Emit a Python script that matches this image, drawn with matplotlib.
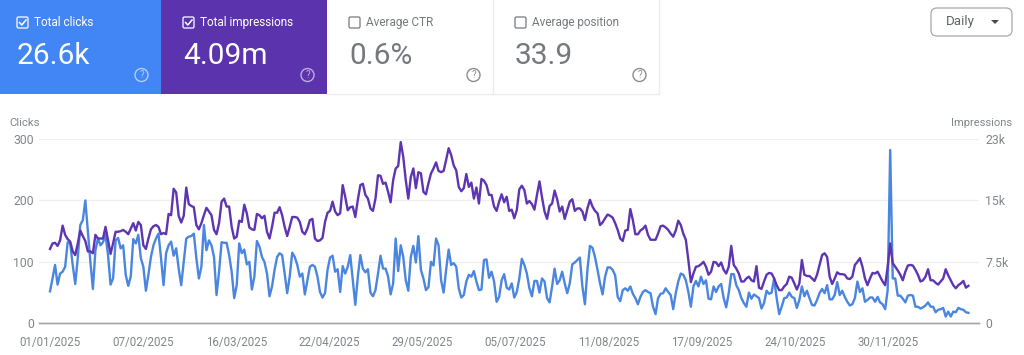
import matplotlib
matplotlib.use('Agg')
import matplotlib.pyplot as plt
from matplotlib.patches import Rectangle, FancyBboxPatch, Circle, Polygon
import pandas as pd

plt.rcParams['font.family'] = ['Roboto', 'DejaVu Sans']

clicks = [
    52, 73, 95, 63, 81, 84, 92, 132, 130, 95, 64, 106, 160, 168, 200, 149, 100, 56, 119, 138,
    127, 132, 144, 111, 63, 73, 135, 139, 122, 127, 79, 61, 76, 137, 130, 144, 106, 92, 53, 79,
    108, 127, 138, 146, 106, 62, 114, 127, 133, 110, 122, 89, 62, 100, 138, 141, 142, 146, 106, 73,
    92, 160, 119, 135, 127, 108, 46, 84, 132, 131, 131, 111, 84, 41, 62, 130, 114, 120, 96, 100,
    55, 76, 134, 125, 108, 100, 81, 44, 60, 87, 108, 114, 111, 81, 49, 76, 115, 108, 95, 76,
    81, 47, 70, 92, 95, 92, 76, 51, 42, 49, 87, 107, 110, 84, 88, 51,
    93, 81, 92, 111, 70, 30, 76, 111, 89, 83, 88, 50, 44, 54, 81, 110, 89, 89, 76, 47,
    65, 138, 85, 127, 108, 70, 53, 108, 126, 99, 142, 87, 73, 54, 59, 100, 94, 138, 127, 70,
    50, 87, 120, 95, 98, 92, 57, 42, 46, 68, 79, 76, 85, 68, 54, 55, 103, 104, 74, 84,
    68, 35, 43, 70, 80, 58, 55, 65, 42, 51, 73, 105, 95, 81, 57, 44, 69, 69, 50, 73,
    68, 41, 34, 60, 89, 64, 70, 84, 65, 49, 65, 96, 99, 103, 107, 60, 31, 87, 126, 123,
    108, 87, 65, 47, 76, 91, 91, 87, 78, 43, 36, 54, 57, 53, 60, 48, 41, 31, 43, 51,
    54, 51, 49, 27, 15, 41, 48, 49, 57, 51, 46, 23, 49, 68,
    81, 79, 70, 51, 27, 60, 69, 60, 76, 64, 70, 40, 39, 60, 51, 60, 64, 41, 26, 49,
    80, 80, 62, 54, 41, 33, 27, 50, 40, 47, 44, 41, 24, 33, 53, 48, 50, 73, 41, 15,
    27, 41, 42, 50, 43, 41, 25, 38, 60, 44, 53, 41, 30, 29, 38, 49, 56, 49, 62, 39,
    39, 46, 67, 46, 53, 43, 35, 29, 31, 41, 68, 51, 57, 35, 38, 42, 42, 35, 43, 34,
    31, 23, 54, 282, 73, 73, 45, 45, 40, 34, 45, 46, 45, 27, 27, 24, 26, 29, 34, 27,
    27, 18, 22, 23, 25, 11, 19, 11, 19, 18, 25, 23, 22, 18, 17,
]

# read against the left scale, multiplied up to impressions below
impressions_read = [
    121, 130, 131, 126, 135, 159, 144, 137, 133, 117, 111, 130, 151, 142, 134, 117, 117, 114, 144, 138,
    138, 138, 157, 135, 113, 130, 149, 149, 150, 152, 149, 145, 154, 163, 151, 165, 160, 127, 121, 138,
    153, 158, 160, 157, 145, 147, 145, 178, 176, 219, 213, 175, 164, 175, 221, 194, 191, 189, 160, 153,
    163, 176, 188, 182, 176, 152, 145, 163, 198, 203, 190, 190, 157, 138, 141, 167, 165, 193, 179, 156,
    153, 152, 178, 176, 171, 175, 149, 138, 157, 180, 180, 189, 176, 157, 142, 157, 173, 173, 172, 165,
    149, 145, 154, 168, 170, 138, 134, 135, 139, 165, 180, 183, 198, 182, 176, 179,
    225, 206, 184, 189, 190, 173, 201, 225, 227, 209, 203, 187, 183, 203, 241, 240, 227, 229, 214, 197,
    233, 252, 256, 295, 271, 233, 203, 238, 252, 220, 246, 244, 214, 210, 228, 244, 252, 262, 248, 246,
    248, 266, 285, 274, 257, 249, 222, 215, 220, 243, 222, 229, 203, 221, 195, 235, 232, 225, 209, 209,
    190, 183, 198, 210, 197, 206, 183, 185, 171, 184, 218, 224, 217, 195, 199, 194, 185, 209, 231, 205,
    182, 170, 191, 195, 216, 202, 182, 190, 170, 184, 198, 202, 183, 187, 187, 182, 168, 187, 201, 190,
    183, 179, 160, 164, 171, 177, 175, 172, 163, 152, 138, 134, 151, 152, 186, 168, 145, 145, 151, 154,
    159, 144, 136, 136, 136, 146, 158, 159, 156, 152, 146, 141, 151, 167,
    160, 146, 136, 103, 67, 81, 92, 93, 96, 100, 92, 79, 84, 100, 99, 93, 99, 87, 81, 92,
    126, 95, 89, 81, 68, 68, 73, 76, 70, 68, 93, 58, 56, 68, 79, 82, 81, 73, 62, 54,
    54, 60, 64, 76, 74, 65, 55, 65, 103, 79, 77, 77, 73, 69, 79, 95, 111, 114, 108, 76,
    64, 73, 83, 80, 80, 79, 73, 72, 76, 95, 100, 106, 92, 73, 62, 73, 82, 81, 84, 76,
    68, 62, 92, 130, 98, 92, 86, 79, 70, 84, 94, 95, 94, 87, 79, 68, 70, 76, 88, 70,
    70, 66, 63, 68, 73, 88, 78, 70, 62, 57, 62, 65, 69, 58, 61,
]
impressions = [v * 75 for v in impressions_read]

tick_dates = ['2025-01-01', '2025-02-07', '2025-03-16', '2025-04-22', '2025-05-29',
              '2025-07-05', '2025-08-11', '2025-09-17', '2025-10-24', '2025-11-30']
tick_labels = ['01/01/2025', '07/02/2025', '16/03/2025', '22/04/2025', '29/05/2025',
               '05/07/2025', '11/08/2025', '17/09/2025', '24/10/2025', '30/11/2025']
left_ticks = [0, 100, 200, 300]
left_labels = ['0', '100', '200', '300']
right_ticks = [0, 7500, 15000, 22500]
right_labels = ['0', '7.5k', '15k', '23k']

card_titles = ['Total clicks', 'Total impressions', 'Average CTR', 'Average position']
card_values = ['26.6k', '4.09m', '0.6%', '33.9']

BLUE = '#4285f4'
LINE_BLUE = '#4a86e0'
PURPLE = '#5e35b1'
GREY = '#80868b'
W, H = 1024, 355

fig = plt.figure(figsize=(W / 100, H / 100), dpi=100, facecolor='white')

# overlay in pixel coordinates for the cards
ui = fig.add_axes([0, 0, 1, 1])
ui.set_xlim(0, W)
ui.set_ylim(H, 0)
ui.axis('off')

cards = [(0, 161, BLUE), (161, 327, '#5b33ad'), (327, 493, 'white'), (493, 659, 'white')]
for (x0, x1, col), title, val in zip(cards, card_titles, card_values):
    filled = col != 'white'
    fg = 'white' if filled else '#75797d'
    ui.add_patch(Rectangle((x0, 0), x1 - x0, 94, fc=col, ec='none'))
    if not filled:
        ui.plot([x1, x1], [0, 94], color='#ececec', lw=1)
        ui.plot([x0, x1], [94, 94], color='#ececec', lw=1)
    bx = x0 + 22 if x0 else 17
    ui.add_patch(FancyBboxPatch((bx, 17), 11, 11, boxstyle='round,pad=0,rounding_size=1.5',
                                fc='none', ec=fg, lw=0.9))
    if filled:
        ui.plot([bx + 2.5, bx + 4.8, bx + 9], [22.5, 25, 20], color='white', lw=1.1)
    ui.text(bx + 17, 22.5, title, color=fg, fontsize=8.5, va='center', ha='left')
    ui.text(bx, 56, val, color=fg, fontsize=21.5, va='center', ha='left')
    cx = x1 - 19.5
    ui.add_patch(Circle((cx, 75), 6.5, fc='none', ec=('#ffffff99' if filled else '#8a8d90'), lw=1))
    ui.text(cx, 75, '?', color=('#ffffff99' if filled else '#8a8d90'), fontsize=7, ha='center', va='center')

ui.add_patch(FancyBboxPatch((931, 8), 81, 28, boxstyle='round,pad=0,rounding_size=6',
                            fc='white', ec='#a8a8a8', lw=0.9))
ui.text(946, 22, 'Daily', color='#5f6368', fontsize=9.6, va='center', ha='left')
ui.add_patch(Polygon([[991, 20], [999, 20], [995, 24]], fc='#4a4a4a', ec='none'))

ui.text(9, 123, 'Clicks', color=GREY, fontsize=8.2, va='center', ha='left')
ui.text(1012, 123, 'Impressions', color=GREY, fontsize=8, va='center', ha='right')

# chart area, 39..979 px across, 139..323 px down
ax = fig.add_axes([39 / W, 1 - 323.3 / H, 940 / W, 184.3 / H])
ax.patch.set_alpha(0)
ax2 = ax.twinx()

days_clicks = pd.date_range('2025-01-01', '2026-01-01', periods=len(clicks))
days_impr = pd.date_range('2025-01-01', '2026-01-01', periods=len(impressions))
ax.plot(days_clicks, clicks, color=LINE_BLUE, lw=1.7, solid_joinstyle='round')
ax2.plot(days_impr, impressions, color=PURPLE, lw=1.7, solid_joinstyle='round')

ax.set_ylim(0, 300)
ax2.set_ylim(0, 22500)
ax.set_xlim(pd.Timestamp('2024-12-27 15:00'), pd.Timestamp('2026-01-05 05:00'))

ax.set_yticks(left_ticks)
ax.set_yticklabels(left_labels)
ax2.set_yticks(right_ticks)
ax2.set_yticklabels(right_labels)
ax.set_xticks(pd.to_datetime(tick_dates))
ax.set_xticklabels(tick_labels)

ax.grid(axis='y', color='#f0f0f0', lw=1)
ax.set_axisbelow(True)
ax.tick_params(axis='x', length=0, pad=9.5, labelsize=8.3, labelcolor=GREY)
ax.tick_params(axis='y', length=0, pad=3.6, labelsize=8.8, labelcolor=GREY)
ax2.tick_params(axis='y', length=0, pad=4.4, labelsize=8.8, labelcolor=GREY)

for a in (ax, ax2):
    for s in ('top', 'left', 'right'):
        a.spines[s].set_visible(False)
    a.spines['bottom'].set_color('#a6a6a6')
    a.spines['bottom'].set_linewidth(1)

fig.savefig('out.png', dpi=100)
